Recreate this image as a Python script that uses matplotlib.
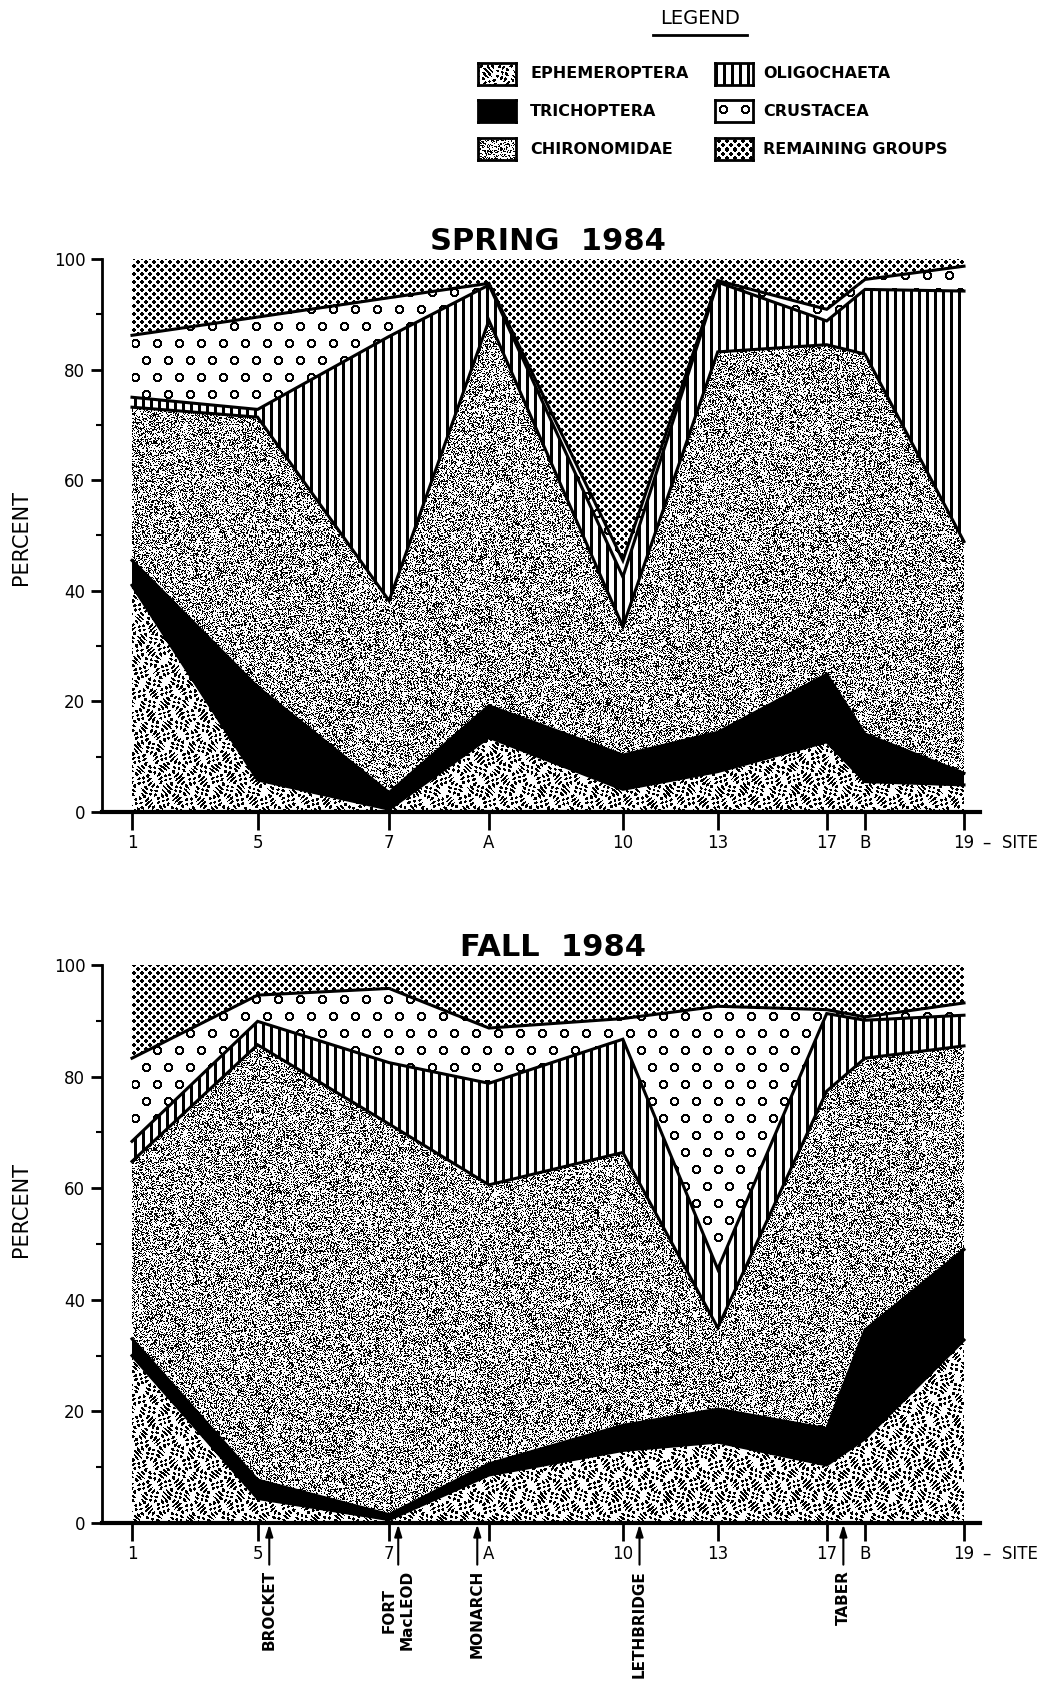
import numpy as np
import matplotlib.pyplot as plt
from matplotlib.patches import Polygon

plt.rcParams['font.family'] = 'DejaVu Sans'

# sampling sites, placed by relative distance downstream
sites = ["1", "5", "7", "A", "10", "13", "17", "B", "19"]
site_pos = [0, 15.1, 30.9, 42.9, 59.0, 70.4, 83.5, 88.1, 100]

groups = ["EPHEMEROPTERA", "TRICHOPTERA", "CHIRONOMIDAE",
          "OLIGOCHAETA", "CRUSTACEA", "REMAINING GROUPS"]

# percent composition, spring 1984
spring_ephemeroptera = [41.0, 5.8, 0.5, 13.5, 4.1, 7.3, 12.7, 5.5, 4.9]
spring_trichoptera = [4.5, 16.8, 3.0, 5.7, 6.2, 7.1, 12.2, 8.6, 2.1]
spring_chironomidae = [27.7, 48.8, 34.7, 69.7, 23.2, 68.8, 59.6, 68.7, 41.9]
spring_oligochaeta = [1.8, 1.4, 47.8, 6.4, 9.0, 12.6, 4.3, 11.7, 45.3]
spring_crustacea = [11.2, 16.7, 7.0, 0.3, 3.0, 0.3, 2.1, 1.8, 4.5]
spring_remaining = [13.8, 10.5, 7.0, 4.4, 54.5, 3.9, 9.1, 3.7, 1.3]

# percent composition, fall 1984
fall_ephemeroptera = [30.0, 4.4, 0.6, 8.6, 13.0, 14.5, 10.4, 15.1, 32.8]
fall_trichoptera = [3.0, 3.3, 0.9, 2.0, 4.5, 5.9, 6.5, 19.5, 16.2]
fall_chironomidae = [31.8, 78.0, 70.0, 50.0, 48.9, 14.6, 60.5, 48.7, 36.5]
fall_oligochaeta = [3.6, 4.2, 11.0, 18.2, 20.3, 10.5, 13.9, 6.8, 5.5]
fall_crustacea = [14.9, 4.7, 13.3, 9.9, 3.7, 47.1, 0.7, 0.6, 2.2]
fall_remaining = [16.7, 5.4, 4.2, 11.3, 9.6, 7.4, 8.0, 9.3, 6.8]

# towns along the river (position downstream, name)
town_pos = [16.5, 32.0, 41.5, 61.0, 85.5]
town_names = ["BROCKET", "FORT\nMacLEOD", "MONARCH", "LETHBRIDGE", "TABER"]

W_PX, H_PX = 1064, 1685
fig = plt.figure(figsize=(W_PX / 100, H_PX / 100), dpi=100)


def px_axes(left, top, right, bottom):
    return fig.add_axes([left / W_PX, 1 - bottom / H_PX,
                         (right - left) / W_PX, (bottom - top) / H_PX])


def texture(kind, h, w, x0=0, y0=0):
    yy, xx = np.mgrid[0:h, 0:w]
    xx = xx + x0
    yy = yy + y0
    if kind == "ephem":
        v = (np.sin(0.85 * xx + 2.6 * np.sin(0.29 * yy + 0.4 * np.sin(0.11 * xx)))
             * np.sin(0.78 * yy + 2.4 * np.sin(0.25 * xx + 0.5 * np.sin(0.13 * yy))))
        return np.where(v > 0.22, 0.0, 1.0)
    if kind == "trich":
        return np.zeros((h, w))
    if kind == "chiro":
        n = np.sin(xx * 12.9898 + yy * 78.233) * 43758.5453
        n = n - np.floor(n)
        return np.where(n < 0.37, 0.0, 1.0)
    if kind == "oligo":
        return np.where(xx % 8 < 2.5, 0.0, 1.0)
    if kind == "crust":
        d1 = np.hypot((xx % 22) - 11, (yy % 34) - 17)
        d2 = np.hypot(((xx + 11) % 22) - 11, ((yy + 17) % 34) - 17)
        d = np.minimum(d1, d2)
        return np.where((d > 2.6) & (d < 4.8), 0.0, 1.0)
    if kind == "remain":
        d1 = np.hypot((xx % 8) - 3.5, (yy % 8) - 3.5)
        d2 = np.hypot(((xx + 4) % 8) - 3.5, ((yy + 4) % 8) - 3.5)
        return np.where(np.minimum(d1, d2) < 1.9, 0.0, 1.0)
    return np.ones((h, w))


kinds = ["ephem", "trich", "chiro", "oligo", "crust", "remain"]

x_lo = -(132 - 102) / 8.32
x_hi = 100 + (980 - 964) / 8.32


def draw_panel(ax, layers, ax_w, ax_h, towns=False):
    values = np.array(layers, dtype=float)
    tops = np.cumsum(values, axis=0)
    bottoms = np.vstack([np.zeros(len(site_pos)), tops[:-1]])
    x = np.array(site_pos, dtype=float)
    for i, kind in enumerate(kinds):
        verts = np.column_stack([np.concatenate([x, x[::-1]]),
                                 np.concatenate([tops[i], bottoms[i][::-1]])])
        clip = Polygon(verts, closed=True, facecolor='none', edgecolor='none')
        ax.add_patch(clip)
        im = ax.imshow(texture(kind, ax_h, ax_w), cmap='gray', vmin=0, vmax=1,
                       extent=(x_lo, x_hi, 0, 100), aspect='auto',
                       interpolation='nearest', zorder=1)
        im.set_clip_path(clip)
    for i in range(len(kinds) - 1):
        ax.plot(x, tops[i], color='black', lw=2.2, zorder=3,
                solid_joinstyle='miter')

    ax.set_xlim(x_lo, x_hi)
    ax.set_ylim(0, 100)
    for side in ['top', 'right']:
        ax.spines[side].set_visible(False)
    ax.spines['left'].set_linewidth(2)
    ax.spines['bottom'].set_linewidth(3)
    ax.spines['bottom'].set_zorder(5)
    ax.set_yticks(range(0, 101, 20))
    ax.set_yticks(range(10, 100, 20), minor=True)
    ax.set_xticks(site_pos)
    ax.set_xticklabels(sites)
    ax.tick_params(axis='y', which='major', direction='out', length=8,
                   width=2, labelsize=12, pad=4)
    ax.tick_params(axis='y', which='minor', direction='out', length=4,
                   width=1.5)
    ax.tick_params(axis='x', direction='out', length=13, width=2,
                   labelsize=12, pad=3)
    ax.annotate("–  SITE", xy=(site_pos[-1], 0),
                xycoords=('data', 'axes fraction'), xytext=(14, -16),
                textcoords='offset points', ha='left', va='top', fontsize=12)

    if towns:
        for tx, name in zip(town_pos, town_names):
            ax.annotate("", xy=(tx, 0), xycoords=('data', 'axes fraction'),
                        xytext=(0, -30), textcoords='offset points',
                        arrowprops=dict(arrowstyle='-|>,head_length=0.7,head_width=0.22',
                                        lw=1.5, color='black',
                                        shrinkA=0, shrinkB=1))
            ax.annotate(name, xy=(tx, 0), xycoords=('data', 'axes fraction'),
                        xytext=(0, -34), textcoords='offset points',
                        rotation=90, ha='center', va='top',
                        multialignment='center', fontsize=11,
                        fontweight='bold', linespacing=1.3)


# spring panel
ax1 = px_axes(102, 259, 980, 812)
draw_panel(ax1, [spring_ephemeroptera, spring_trichoptera, spring_chironomidae,
                 spring_oligochaeta, spring_crustacea, spring_remaining],
           878, 553)
fig.text(548 / W_PX, 1 - 241 / H_PX, "SPRING  1984", ha='center', va='center',
         fontsize=22, fontweight='bold')
fig.text(21 / W_PX, 1 - 537 / H_PX, "PERCENT", rotation=90, ha='center',
         va='center', fontsize=15)

# fall panel
ax2 = px_axes(102, 965, 980, 1523)
draw_panel(ax2, [fall_ephemeroptera, fall_trichoptera, fall_chironomidae,
                 fall_oligochaeta, fall_crustacea, fall_remaining],
           878, 558, towns=True)
fig.text(553 / W_PX, 1 - 948 / H_PX, "FALL  1984", ha='center', va='center',
         fontsize=22, fontweight='bold')
fig.text(21 / W_PX, 1 - 1209 / H_PX, "PERCENT", rotation=90, ha='center',
         va='center', fontsize=15)

# legend
fig.text(700 / W_PX, 1 - 19 / H_PX, "LEGEND", ha='center', va='center',
         fontsize=14)
fig.add_artist(plt.Line2D([653 / W_PX, 747 / W_PX], [1 - 35 / H_PX, 1 - 35 / H_PX],
                          color='black', lw=2))
row_y = [74, 111, 149]
col_x = [(478, 530), (715, 763)]
for i, (name, kind) in enumerate(zip(groups, kinds)):
    col, row = divmod(i, 3)
    sx, tx = col_x[col]
    cy = row_y[row]
    sw = px_axes(sx, cy - 11, sx + 38, cy + 11)
    sw.imshow(texture(kind, 22, 38, x0=3 if kind == "crust" else 0,
                      y0=8 if kind == "crust" else 0),
              cmap='gray', vmin=0, vmax=1, interpolation='nearest', aspect='auto')
    sw.set_xticks([])
    sw.set_yticks([])
    for s in sw.spines.values():
        s.set_linewidth(2)
    fig.text(tx / W_PX, 1 - cy / H_PX, name, ha='left', va='center',
             fontsize=11.5, fontweight='bold')

fig.savefig("out.png", dpi=100)
